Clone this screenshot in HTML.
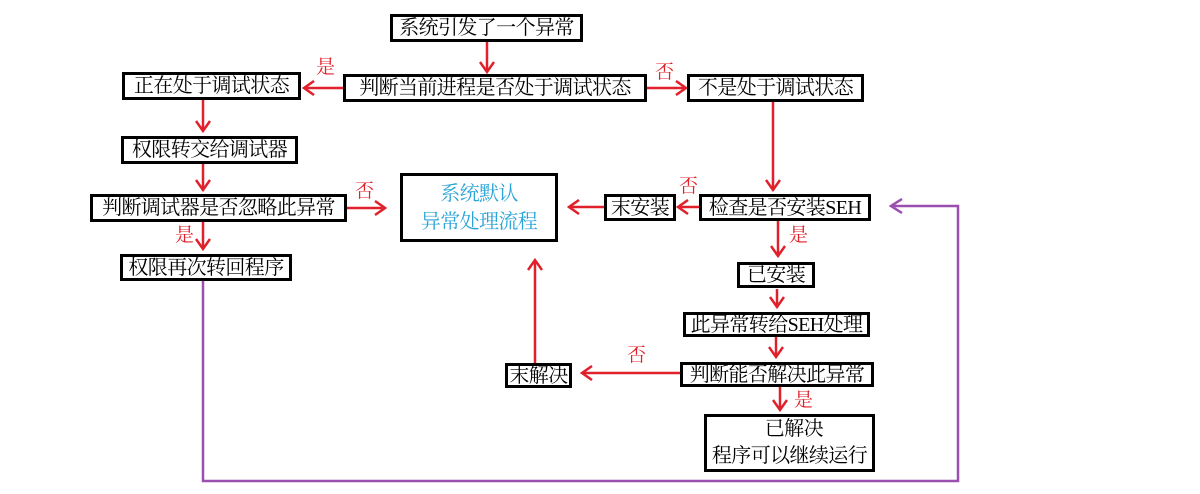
<!DOCTYPE html>
<html><head><meta charset="utf-8"><style>
body{margin:0;width:1200px;height:494px;background:#fff;position:relative;overflow:hidden;font-family:"Liberation Serif","Noto Serif CJK SC",serif;}
.b{position:absolute;border:3px solid #000;box-sizing:border-box;background:#fff;font-size:20px;line-height:22px;text-align:center;white-space:nowrap;color:#000;display:flex;align-items:center;justify-content:center;letter-spacing:-0.6px;overflow:hidden}
.l{position:absolute;color:#e0202a;font-size:19px;line-height:20px}
svg{position:absolute;left:0;top:0}
</style></head><body>
<svg width="1200" height="494">
<defs>
<marker id="r" markerWidth="16" markerHeight="16" refX="11" refY="8" orient="auto" markerUnits="userSpaceOnUse"><path d="M1,1 L11,8 L1,15" fill="none" stroke="#e0202a" stroke-width="2.5"/></marker>
<marker id="p" markerWidth="16" markerHeight="16" refX="12" refY="8" orient="auto" markerUnits="userSpaceOnUse"><path d="M1,1 L12,8 L1,15" fill="none" stroke="#9b4fb0" stroke-width="2.5"/></marker>
</defs>
<g stroke="#e0202a" stroke-width="2.5" fill="none" marker-end="url(#r)">
<line x1="487" y1="42" x2="487" y2="72"/>
<line x1="343" y1="88" x2="304" y2="88"/>
<line x1="647" y1="88" x2="686" y2="88"/>
<line x1="773" y1="102" x2="773" y2="190"/>
<line x1="203" y1="100" x2="203" y2="131"/>
<line x1="203" y1="164" x2="203" y2="190"/>
<line x1="347" y1="208" x2="385" y2="208"/>
<line x1="203" y1="222" x2="203" y2="249"/>
<line x1="604" y1="207" x2="569" y2="207"/>
<line x1="699" y1="207" x2="678" y2="207"/>
<line x1="778" y1="221" x2="778" y2="256"/>
<line x1="777" y1="289" x2="777" y2="307"/>
<line x1="776" y1="337" x2="776" y2="357"/>
<line x1="780" y1="387" x2="780" y2="410"/>
<line x1="680" y1="373" x2="582" y2="373"/>
<line x1="535" y1="363" x2="535" y2="260"/>
</g>
<polyline points="203,281 203,481 958,481 958,206 891,206" fill="none" stroke="#9b4fb0" stroke-width="2.5" marker-end="url(#p)"/>
</svg>
<div class="b" style="left:390px;top:14px;width:193px;height:28px">系统引发了一个异常</div>
<div class="b" style="left:343px;top:74px;width:304px;height:28px">判断当前进程是否处于调试状态</div>
<div class="b" style="left:122px;top:72px;width:179px;height:28px">正在处于调试状态</div>
<div class="b" style="left:687px;top:74px;width:177px;height:28px">不是处于调试状态</div>
<div class="b" style="left:121px;top:136px;width:177px;height:28px">权限转交给调试器</div>
<div class="b" style="left:90px;top:194px;width:257px;height:28px">判断调试器是否忽略此异常</div>
<div class="b" style="left:120px;top:254px;width:172px;height:27px">权限再次转回程序</div>
<div class="b" style="left:400px;top:173px;width:158px;height:69px;color:#29a3d8;line-height:28px;flex-direction:column">系统默认<br>异常处理流程</div>
<div class="b" style="left:604px;top:194px;width:72px;height:27px">末安装</div>
<div class="b" style="left:699px;top:194px;width:172px;height:27px">检查是否安装SEH</div>
<div class="b" style="left:737px;top:262px;width:78px;height:26px">已安装</div>
<div class="b" style="left:683px;top:312px;width:187px;height:25px">此异常转给SEH处理</div>
<div class="b" style="left:680px;top:362px;width:194px;height:25px">判断能否解决此异常</div>
<div class="b" style="left:505px;top:363px;width:67px;height:25px">末解决</div>
<div class="b" style="left:704px;top:414px;width:171px;height:58px;line-height:27px;flex-direction:column">&nbsp;&nbsp;已解决<br>程序可以继续运行</div>
<div class="l" style="left:316px;top:58px">是</div>
<div class="l" style="left:655px;top:63px">否</div>
<div class="l" style="left:355px;top:182px">否</div>
<div class="l" style="left:175px;top:226px">是</div>
<div class="l" style="left:679px;top:177px">否</div>
<div class="l" style="left:789px;top:226px">是</div>
<div class="l" style="left:627px;top:346px">否</div>
<div class="l" style="left:794px;top:391px">是</div>
</body></html>
